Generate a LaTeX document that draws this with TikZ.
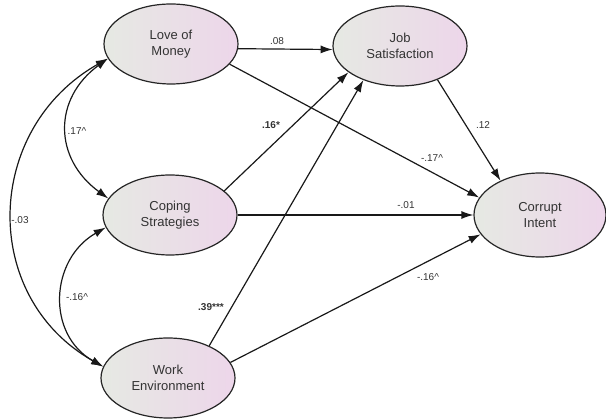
\documentclass[tikz,border=0pt]{standalone}
\usepackage{fontspec}
\setmainfont{Liberation Sans}
\usetikzlibrary{shapes.geometric,arrows.meta}
\definecolor{shadeL}{HTML}{E6E9E3}
\definecolor{shadeR}{HTML}{EDD6EA}
\definecolor{ink}{HTML}{333333}
\begin{document}
\begin{tikzpicture}[x=1pt,y=-1pt,
  latent/.style={ellipse,draw=black!85,line width=1.2pt,inner sep=0pt,
    minimum width=134pt,minimum height=80pt,left color=shadeL,right color=shadeR,
    font=\fontsize{13}{15.5}\selectfont,text=ink,align=center},
  path/.style={line width=1.2pt,draw=black!90,-{Latex[length=12pt,width=8pt]}},
  cov/.style={line width=1.2pt,draw=black!90,{Latex[length=12pt,width=8pt]}-{Latex[length=12pt,width=8pt]}},
  coef/.style={font=\fontsize{10}{11}\selectfont,text=ink,inner sep=1pt},
  bcoef/.style={coef,font=\fontsize{10}{11}\selectfont\bfseries}]
\useasboundingbox (0,0) rectangle (606,419);

% latent variables
\node[latent] (lom) at (171,44) {Love of\\Money};
\node[latent] (js)  at (400,46) {Job\\Satisfaction};
\node[latent] (cs)  at (170,215) {Coping\\Strategies};
\node[latent] (we)  at (168,378) {Work\\Environment};
\node[latent,minimum width=132pt,minimum height=84pt] (ci) at (540,215) {Corrupt\\Intent};

% structural paths
\draw[path] (lom.-4) -- (js.183);
\draw[path] (lom.-19) -- (ci.164);
\draw[path] (cs.24) -- (js.207);
\draw[path] (cs.east) -- (ci.west);
\draw[path] (we.38) -- (js.223);
\draw[path] (we.14) -- (ci.198);
\draw[path] (js.-42) -- (ci.139);

% covariances
\draw[cov] (lom.193) .. controls +(-55,40) and +(-55,-40) .. (cs.165);
\draw[cov] (lom.193) .. controls +(-124,70) and +(-124,-70) .. (we.170);
\draw[cov] (cs.191) .. controls +(-56,32) and +(-57,-32) .. (we.170);

% coefficients
\node[coef]  (c08)  at (277,41)  {.08};
\node[coef]  (c17)  at (77,131)  {.17\textasciicircum};
\node[bcoef] (c16s) at (271,125) {.16*};
\node[coef]  (c03)  at (20,220)  {-.03};
\node[coef]  (c12)  at (483,125) {.12};
\node[coef]  (c17n) at (432,158) {-.17\textasciicircum};
\node[coef]  (c01)  at (406,205) {-.01};
\node[coef]  (c16a) at (77,297)  {-.16\textasciicircum};
\node[bcoef] (c39)  at (211,307) {.39***};
\node[coef]  (c16b) at (428,277) {-.16\textasciicircum};
\end{tikzpicture}
\end{document}
